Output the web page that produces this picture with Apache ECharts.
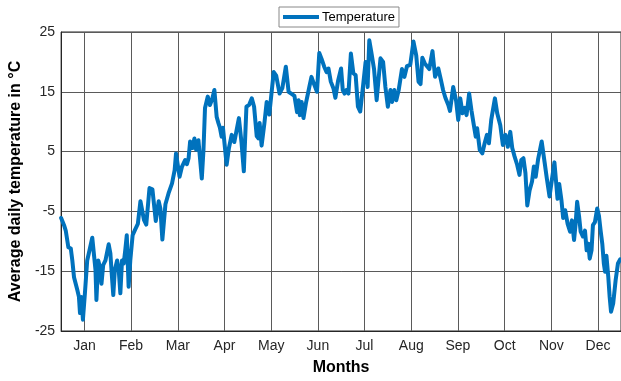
<!DOCTYPE html>
<html>
<head>
<meta charset="utf-8">
<script src="https://cdn.jsdelivr.net/npm/echarts@6/dist/echarts.min.js"></script>
<style>html,body{margin:0;padding:0;background:#fff;}#c{width:621px;height:381px;}</style>
</head>
<body>
<div id="c"></div>
<script>
const monthLabels = ['Jan','Feb','Mar','Apr','May','Jun','Jul','Aug','Sep','Oct','Nov','Dec'];
const tickDays = [15.2, 45.6, 76.1, 106.5, 137.0, 167.4, 197.8, 228.3, 258.7, 289.2, 319.6, 350.0];
const yTicks = [-25, -15, -5, 5, 15, 25];
const seriesName = 'Temperature';
const days = [
  0, 1.9, 3, 4.7, 6.3, 7.3, 8.4, 9.5, 10.6, 11.6, 12.3, 13.2, 14.2, 15.5, 17, 18.5, 20.3, 21.3, 22.4, 23,
  24.2, 25.3, 26.3, 27.4, 28.9, 31, 32.1, 33.2, 34, 35, 36.5, 37.5, 38.6, 39.7, 40.8, 41.8, 42.8, 44, 45.1, 46.6,
  48.3, 50, 51.7, 52.8, 54, 55.5, 57.6, 59.5, 61.7, 63.6, 64.7, 66, 68, 70, 72.3, 74, 74.9, 76.2, 77.2, 78.8,
  80.9, 82, 83.1, 84.1, 85.6, 86.9, 88, 89.5, 91.7, 92.8, 93.8, 95.6, 97, 98.5, 99.9, 101.4, 102.5, 103.5, 104.6, 105.5,
  107.9, 109.4, 111.2, 112.9, 114.4, 115.9, 117.6, 119.1, 120.8, 122.5, 124.3, 125.8, 127.5, 128.6, 129.4, 130.7, 132.5, 134, 135.7, 137,
  138.6, 140.2, 142.4, 144.2, 146.5, 148.3, 150.5, 152.1, 153.8, 154.8, 155.6, 156.8, 158, 159.6, 161.8, 163.2, 165, 166.8, 168.3, 169.8,
  171.5, 173, 174.3, 175.8, 177.5, 178.8, 180.6, 182.5, 183.6, 184.8, 186, 187.3, 188.9, 190.5, 192, 193.5, 195, 197, 198.5, 199.8,
  200.9, 202.3, 204, 205.7, 208.2, 209.9, 211.4, 213, 214.7, 215.8, 217.2, 218.5, 220, 222.2, 223.8, 225.5, 227.6, 229.7, 231.5, 233,
  234.3, 235.5, 237, 238.4, 240, 242.1, 243.8, 245.9, 247.6, 249, 250.5, 252.4, 253.5, 255.6, 257.5, 258.9, 260.2, 261.7, 263.2, 264.3,
  266, 267.5, 269, 270.3, 271.2, 272.9, 274.6, 276.1, 277.6, 278.9, 280.4, 282.8, 284.3, 286.3, 288, 289.7, 291.2, 292.8, 294.1, 295.6,
  297.3, 298.8, 300, 301.4, 302.7, 303.9, 305.4, 307, 308.2, 309.4, 311, 313.3, 315.2, 316.6, 318.4, 320, 321.6, 322.6, 323.6, 324.7,
  326.2, 327.3, 328.6, 330.2, 331.8, 333, 334.4, 335.4, 336.4, 337.7, 338.7, 340.2, 341.5, 342.6, 343.7, 344.6, 345.8, 346.7, 348, 349.5,
  350.6, 351.7, 352.8, 353.8, 354.6, 355.5, 356.7, 357.6, 358.5, 359.9, 361.5, 363, 364.5
];
const temps = [
  -6.1, -7.3, -8.2, -11, -11.2, -13.2, -16, -16.2, -18.2, -19.3, -22, -19.3, -23.1, -18.7, -13.2, -11.5, -9.4, -9.6, -14.8, -19.8,
  -13.2, -14.3, -17.1, -14, -13.2, -10.5, -12, -16.2, -19, -14.8, -13.2, -14.6, -18.7, -13.2, -13.7, -11.5, -9, -17.6, -13.2, -9,
  -8, -7.1, -3.3, -3.6, -6.4, -7.2, -1.1, -1.3, -6.6, -3.3, -4.5, -9.7, -3.8, -2, -0.3, 1.9, 4.7, 2.5, 0.8, 2.5,
  3.6, 2.9, 3.9, 6.7, 5.6, 7.2, 5.3, 6.9, 0.5, 5.3, 12.3, 14.2, 12.8, 13.8, 15.3, 10.8, 9.8, 9, 7.5, 9,
  2.8, 5.6, 7.8, 6.6, 8.6, 10.6, 6.5, 1.7, 12.5, 12.8, 13.9, 12.5, 7.6, 7.2, 9.8, 6, 9.7, 13.3, 11.2, 11,
  18.3, 17.7, 14.7, 15.6, 19.2, 15, 14.6, 14.3, 11.6, 13.6, 11.1, 13.3, 10.6, 13.1, 15.8, 17.5, 16.2, 15, 21.5, 20.5,
  19.2, 18.3, 18.9, 16.7, 15.6, 14, 16.9, 18.9, 15.3, 14.7, 15.3, 14.7, 21.4, 18.1, 17.8, 12.5, 11.7, 16.4, 20, 15.8,
  23.6, 21.5, 18.8, 13.6, 20.6, 20, 15.8, 12.5, 15.3, 13.3, 15.3, 13.6, 15.2, 18.8, 17.5, 19.3, 19.5, 23.4, 21.1, 16.7,
  16.3, 20.7, 19.8, 19.3, 18.8, 21.8, 17.5, 18.9, 17, 15.3, 14, 12.8, 11.8, 15.8, 13.5, 10.3, 13.9, 11.4, 12.3, 11.1,
  14.7, 11.9, 9.5, 7.5, 8.9, 5.3, 4.7, 6.4, 7.8, 6.4, 10.3, 13.9, 11.4, 9.4, 6.1, 7.8, 5.8, 8.3, 5.6, 4.2,
  2.8, 1.1, 3.6, 3.9, 1.4, -4, -1.5, 0, 2.5, 0.8, 3.8, 6.7, 3.2, 0.6, -2.5, 0.4, 3.2, 0.2, -2.9, -0.4,
  -3.2, -6.1, -4.8, -7.1, -8.4, -6.5, -9.8, -7.1, -3.4, -5.9, -8.4, -9.2, -8.2, -11.5, -10.4, -12.9, -11.5, -7.3, -6.8, -4.5,
  -5.7, -8.2, -10.4, -13.7, -15.1, -12.4, -15.9, -19.3, -21.8, -20.4, -16.5, -13.7, -13
];

const FONT = "'Liberation Sans', Arial, sans-serif";
const chart = echarts.init(document.getElementById('c'), null, {renderer: 'canvas'});
chart.setOption({
  animation: false,
  backgroundColor: '#fff',
  grid: {left: 60, right: -3, top: 32, bottom: 49, show: true, borderColor: '#262626', borderWidth: 1, containLabel: false},
  legend: {
    data: [{name: seriesName, icon: 'rect'}], left: 279, top: 7,
    padding: [3, 4, 3, 4], itemWidth: 36, itemHeight: 4, itemGap: 4,
    borderColor: '#888', borderWidth: 1, backgroundColor: '#fff',
    itemStyle: {color: '#0072BD'},
    textStyle: {fontFamily: FONT, fontSize: 13, lineHeight: 14, color: '#000', padding: [0, 0, 0, -2]}
  },
  xAxis: {
    type: 'value', min: 0, max: 365,
    name: 'Months', nameLocation: 'middle', nameGap: 29,
    nameTextStyle: {fontFamily: FONT, fontSize: 16, fontWeight: 'bold', color: '#000'},
    axisLine: {show: true, onZero: false, lineStyle: {color: '#262626', width: 1}},
    axisTick: {show: false, customValues: tickDays},
    axisLabel: {
      customValues: tickDays, margin: 8,
      fontFamily: FONT, fontSize: 14, color: '#262626',
      formatter: function (v) { const i = tickDays.indexOf(v); return i >= 0 ? monthLabels[i] : ''; }
    },
    splitLine: {show: true, lineStyle: {color: '#5a5a5a', width: 1}}
  },
  yAxis: {
    type: 'value', min: yTicks[0], max: yTicks[yTicks.length - 1], interval: 10,
    name: 'Average daily temperature in °C', nameLocation: 'middle', nameGap: 29,
    nameTextStyle: {fontFamily: FONT, fontSize: 16, fontWeight: 'bold', color: '#000'},
    axisLine: {show: true, lineStyle: {color: '#262626', width: 1}},
    axisTick: {show: false},
    axisLabel: {margin: 6, fontFamily: FONT, fontSize: 14, color: '#262626'},
    splitLine: {show: true, lineStyle: {color: '#5a5a5a', width: 1}}
  },
  series: [{
    name: seriesName, type: 'line',
    data: days.map((d, i) => [d, temps[i]]),
    symbol: 'none', showSymbol: false,
    lineStyle: {color: '#0072BD', width: 4, join: 'round', cap: 'round'},
    itemStyle: {color: '#0072BD'},
    clip: true
  }]
});
</script>
</body>
</html>
